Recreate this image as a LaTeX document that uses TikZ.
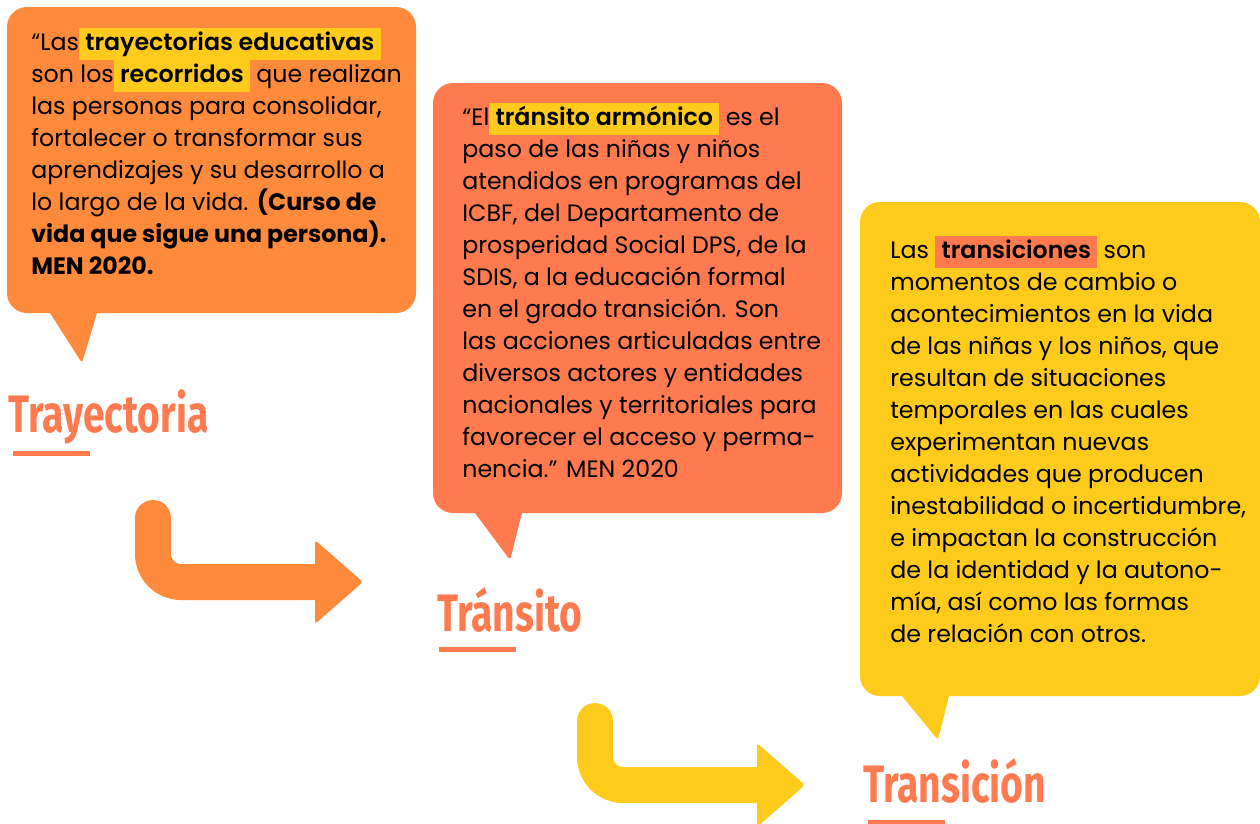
\documentclass[tikz,border=0pt]{standalone}
\usepackage{fontspec}
\setmainfont{Poppins}
\newfontfamily\resfont{Poppins SemiBold}
\newfontfamily\titlefont[FakeStretch=0.74]{Fira Sans}
\usetikzlibrary{positioning}

\definecolor{naranja}{HTML}{FF8A3B}
\definecolor{coral}{HTML}{FF7A4F}
\definecolor{amarillo}{HTML}{FECB1D}

% highlighted word inside the quotes
\newcommand{\resalta}[2]{{\setlength{\fboxsep}{0pt}\colorbox{#1}{\strut\ {\resfont #2}\ }}}

\begin{document}
\begin{tikzpicture}[
  x=0.02cm, y=-0.02cm,
  quote/.style={anchor=north west, inner sep=0pt, align=left, font=\fontsize{13.5}{18.2}\selectfont},
  etapa/.style={anchor=base west, inner sep=0pt, text=coral, font=\titlefont\bfseries\fontsize{30}{30}\selectfont},
  uline/.style={draw=coral, line width=0.1cm},
  bent arrow/.style={draw=#1, line width=0.72cm, line cap=round, rounded corners=0.56cm}
]
\useasboundingbox (0,0) rectangle (1260,823);

% bubbles
\fill[naranja] (7,160) [rounded corners=0.4cm] -- (7,7) -- (416,7) -- (416,313)
  [sharp corners] -- (97,313) [rounded corners=0.06cm] -- (82,363)
  [sharp corners] -- (50,313) [rounded corners=0.4cm] -- (7,313) -- cycle;
\fill[coral] (433,300) [rounded corners=0.4cm] -- (433,83) -- (842,83) -- (842,513)
  [sharp corners] -- (522,513) [rounded corners=0.06cm] -- (510,560)
  [sharp corners] -- (475,513) [rounded corners=0.4cm] -- (433,513) -- cycle;
\fill[amarillo] (860,450) [rounded corners=0.4cm] -- (860,202) -- (1260,202) -- (1260,696)
  [sharp corners] -- (949,696) [rounded corners=0.06cm] -- (938,740)
  [sharp corners] -- (902,696) [rounded corners=0.4cm] -- (860,696) -- cycle;

% texts
\node[quote] (q1) at (31,27.6) {“Las\resalta{amarillo}{trayectorias educativas}\\
son los\resalta{amarillo}{recorridos} que realizan\\
las personas para consolidar,\\
fortalecer o transformar sus\\
aprendizajes y su desarrollo a\\
lo largo de la vida. \textbf{(Curso de}\\
\textbf{vida que sigue una persona).}\\
\textbf{MEN 2020.}};

\node[quote] (q2) at (462,102.6) {“El\resalta{amarillo}{tránsito armónico} es el\\
paso de las niñas y niños\\
atendidos en programas del\\
ICBF, del Departamento de\\
prosperidad Social DPS, de la\\
SDIS, a la educación formal\\
en el grado transición. Son\\
las acciones articuladas entre\\
diversos actores y entidades\\
nacionales y territoriales para\\
favorecer el acceso y perma-\\
nencia.” MEN 2020};

\node[quote] (q3) at (890,235.6) {Las \resalta{coral}{transiciones} son\\
momentos de cambio o\\
acontecimientos en la vida\\
de las niñas y los niños, que\\
resultan de situaciones\\
temporales en las cuales\\
experimentan nuevas\\
actividades que producen\\
inestabilidad o incertidumbre,\\
e impactan la construcción\\
de la identidad y la autono-\\
mía, así como las formas\\
de relación con otros.};

% stage titles
\node[etapa] (t1) at (8,432) {Trayectoria};
\node[etapa] (t2) at (437,631) {Tránsito};
\node[etapa] (t3) at (863,802) {Transición};
\draw[uline] ([shift={(5,21)}]t1.base west) -- +(77,0);
\draw[uline] ([shift={(2,18)}]t2.base west) -- +(77,0);
\draw[uline] ([shift={(5,20)}]t3.base west) -- +(77,0);

% arrows
\coordinate (a1top) at (153,518);
\coordinate (a1end) at (320,582);
\draw[bent arrow=naranja] (a1top) |- (a1end);
\fill[naranja, rounded corners=0.06cm] ([shift={(-5,-42)}]a1end) -- ([shift={(43,0)}]a1end)
  -- ([shift={(-5,42)}]a1end) -- cycle;

\coordinate (a2top) at (595,721);
\coordinate (a2end) at (762,785);
\draw[bent arrow=amarillo] (a2top) |- (a2end);
\fill[amarillo, rounded corners=0.06cm] ([shift={(-5,-42)}]a2end) -- ([shift={(43,0)}]a2end)
  -- ([shift={(-5,42)}]a2end) -- cycle;

\end{tikzpicture}
\end{document}
